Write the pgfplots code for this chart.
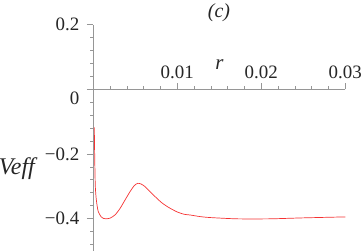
\documentclass[border=0pt]{standalone}
\usepackage{pgfplots}
\pgfplotsset{compat=1.18}
\usepackage{fontspec}
\setmainfont{Liberation Serif}
\definecolor{axgray}{RGB}{150,150,150}
\definecolor{curvered}{RGB}{245,50,50}
\begin{document}
\begin{tikzpicture}
\begin{axis}[
  at={(0,0)}, anchor=south west,
  scale only axis, width=252bp, height=226bp,
  xmin=0, xmax=0.03, ymin=-0.5, ymax=0.2,
  axis lines=middle,
  axis line style={-, axgray, line width=0.6bp},
  every tick/.style={axgray, line width=0.6bp},
  major tick length=6.5bp, minor tick length=3bp,
  xtick align=inside, ytick align=outside,
  xtick={0.01,0.02,0.03}, xticklabels={0.01,0.02,0.03},
  minor xtick={0.002,0.004,0.006,0.008,0.012,0.014,0.016,0.018,0.022,0.024,0.026,0.028},
  ytick={-0.4,-0.2,0.2}, yticklabels={−0.4,−0.2,0.2},
  extra y ticks={0}, extra y tick labels={0},
  extra y tick style={yticklabel style={yshift=-9bp}},
  minor ytick={-0.48,-0.44,-0.36,-0.32,-0.28,-0.24,-0.16,-0.12,-0.08,-0.04,0.04,0.08,0.12,0.16},
  hide obscured x ticks=false, hide obscured y ticks=false,
  xticklabel style={anchor=base, yshift=11bp, font=\fontsize{19}{22}\selectfont, text=black!85},
  yticklabel style={anchor=east, xshift=-4bp, font=\fontsize{19}{22}\selectfont, text=black!85},
  scaled x ticks=false,
  clip=false,
]
\addplot[curvered, line width=0.7bp, smooth, tension=0.4] coordinates {
(0.000119,-0.118) (0.000167,-0.21) (0.000202,-0.26) (0.000238,-0.30)
(0.000321,-0.332) (0.000440,-0.358) (0.000595,-0.379) (0.000917,-0.394)
(0.00124,-0.400) (0.00160,-0.401) (0.00199,-0.399) (0.00258,-0.389)
(0.00318,-0.369) (0.00377,-0.343) (0.00437,-0.317) (0.00488,-0.298)
(0.00529,-0.291) (0.00568,-0.293) (0.00615,-0.301) (0.00675,-0.317)
(0.00735,-0.332) (0.00814,-0.351) (0.00893,-0.365) (0.00993,-0.379)
(0.01083,-0.387) (0.0115,-0.389) (0.0127,-0.394) (0.0139,-0.397)
(0.0171,-0.401) (0.0210,-0.401) (0.0250,-0.398) (0.0300,-0.395)
};
\end{axis}
\node[anchor=base, font=\fontsize{21}{24}\selectfont\itshape, text=black!85] at (126.2bp,180.8bp) {r};
\node[anchor=center, font=\fontsize{20}{24}\selectfont\itshape, text=black!85] at (125.7bp,238.3bp) {(c)};
\node[anchor=base east, font=\fontsize{24}{28}\selectfont\itshape, text=black!85, inner sep=0pt] at (-58.3bp,75.8bp) {Veff};
\pgfresetboundingbox
\path[use as bounding box] (-93.3bp,-1.2bp) rectangle (269.7bp,250.8bp);
\end{tikzpicture}
\end{document}
